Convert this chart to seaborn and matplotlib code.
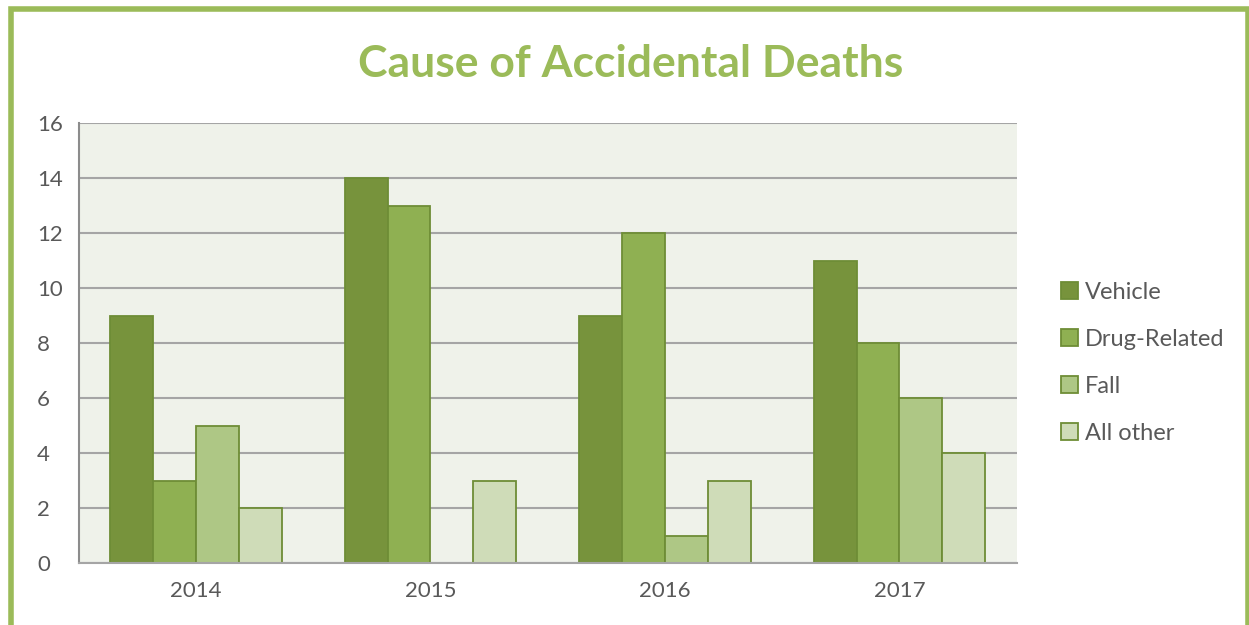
import matplotlib
matplotlib.use("Agg")
import matplotlib.pyplot as plt
import matplotlib.patches as mpatches
import seaborn as sns
import pandas as pd

years = ["2014", "2015", "2016", "2017"]
causes = ["Vehicle", "Drug-Related", "Fall", "All other"]
vehicle = [9, 14, 9, 11]
drug_related = [3, 13, 12, 8]
fall = [5, 0, 1, 6]
all_other = [2, 3, 3, 4]

colors = ["#77933C", "#8FB052", "#AEC785", "#CFDCB8"]
edge = "#6E8D36"

rows = []
for vals, cause in zip([vehicle, drug_related, fall, all_other], causes):
    for y, v in zip(years, vals):
        rows.append({"year": y, "cause": cause, "deaths": v})
df = pd.DataFrame(rows)

sns.set_style("white")
plt.rcParams["font.family"] = ["Lato", "DejaVu Sans"]

fig = plt.figure(figsize=(12.49, 6.25), dpi=100)
ax = fig.add_axes([0.063, 0.099, 0.751, 0.704])

sns.barplot(data=df, x="year", y="deaths", hue="cause", hue_order=causes,
            order=years, palette=colors, saturation=1, width=0.73, gap=0, ax=ax,
            edgecolor=edge, linewidth=1.3, errorbar=None, legend=False)

ax.set_facecolor("#EFF2EA")
ax.set_ylim(0, 16)
ax.set_yticks(range(0, 17, 2))
ax.yaxis.grid(True, color="#A5A5A5", linewidth=1.5)
ax.set_axisbelow(True)
for s in ["top", "right"]:
    ax.spines[s].set_visible(False)
ax.spines["left"].set_color("#8C8C8C")
ax.spines["left"].set_linewidth(1.5)
ax.spines["bottom"].set_color("#A5A5A5")
ax.spines["bottom"].set_linewidth(1.5)
ax.set_xlabel("")
ax.set_ylabel("")
ax.tick_params(axis="both", length=0, labelsize=16, labelcolor="#595959")
ax.tick_params(axis="y", pad=30)
ax.tick_params(axis="x", pad=13)
for lbl in ax.get_yticklabels():
    lbl.set_horizontalalignment("left")

handles = [mpatches.Patch(facecolor=c, edgecolor=edge, linewidth=1.3) for c in colors]
leg = ax.legend(handles, causes, loc="center left", bbox_to_anchor=(1.025, 0.455),
                frameon=False, fontsize=17, handlelength=0.7, handleheight=0.7,
                handletextpad=0.3, labelspacing=1.1)
for t in leg.get_texts():
    t.set_color("#595959")

fig.text(0.505, 0.898, "Cause of Accidental Deaths", ha="center", va="center",
         fontsize=32, fontweight="bold", color="#9BBB59")

border = mpatches.Rectangle((0.0085, -0.05), 0.991, 1.035, transform=fig.transFigure,
                            fill=False, edgecolor="#9BBB59", linewidth=4, clip_on=False)
fig.patches.append(border)

fig.savefig("out.png", dpi=100, facecolor="white")
